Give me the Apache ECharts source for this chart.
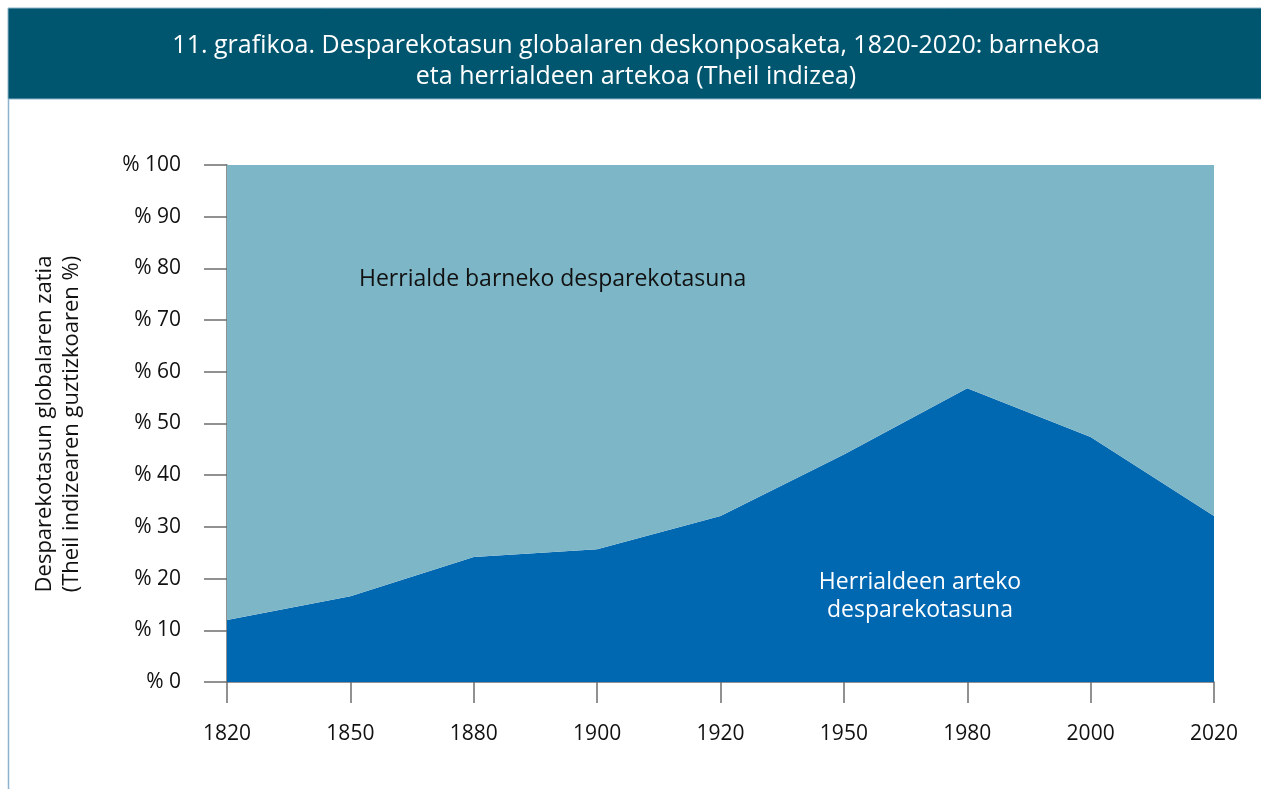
<!DOCTYPE html>
<html>
<head>
<meta charset="utf-8">
<script src="https://cdn.jsdelivr.net/npm/echarts@6/dist/echarts.min.js"></script>
<style>
  html, body { margin: 0; padding: 0; background: #fff; }
  #chart { width: 1261px; height: 789px; }
</style>
</head>
<body>
<div id="chart"></div>
<script>
const years = ['1820', '1850', '1880', '1900', '1920', '1950', '1980', '2000', '2020'];
// share of global inequality between countries (%)
const between = [12.0, 16.6, 24.2, 25.7, 32.1, 44.0, 56.8, 47.4, 32.1];
// share within countries (%) = rest of the total
const within = [88.0, 83.4, 75.8, 74.3, 67.9, 56.0, 43.2, 52.6, 67.9];
const yTicks = [0, 10, 20, 30, 40, 50, 60, 70, 80, 90, 100];

const font = '"Open Sans", "Noto Sans", sans-serif';
const axisGray = '#6e6e6e';

const chart = echarts.init(document.getElementById('chart'));
chart.setOption({
  animation: false,
  textStyle: { fontFamily: font },
  grid: { left: 227, right: 47, top: 165, bottom: 107 },
  graphic: [
    {
      type: 'rect',
      z: 100,
      shape: { x: 8, y: 8, width: 1260, height: 91 },
      style: { fill: '#00566f', stroke: '#8db4cc', lineWidth: 1 }
    },
    {
      type: 'line',
      z: 100,
      shape: { x1: 8.5, y1: 99, x2: 8.5, y2: 789 },
      style: { stroke: '#8db4cc', lineWidth: 1.5 }
    },
    {
      type: 'text',
      z: 101,
      x: 636,
      y: 61,
      style: {
        text: '11. grafikoa. Desparekotasun globalaren deskonposaketa, 1820-2020: barnekoa\neta herrialdeen artekoa (Theil indizea)',
        fill: '#fff',
        font: '25px ' + font,
        align: 'center',
        verticalAlign: 'middle',
        lineHeight: 31
      }
    },
    {
      type: 'text',
      z: 101,
      x: 359,
      y: 279,
      style: {
        text: 'Herrialde barneko desparekotasuna',
        fill: '#111',
        font: '23px ' + font,
        verticalAlign: 'middle'
      }
    },
    {
      type: 'text',
      z: 101,
      x: 920,
      y: 596,
      style: {
        text: 'Herrialdeen arteko\ndesparekotasuna',
        fill: '#fff',
        font: '23px ' + font,
        align: 'center',
        verticalAlign: 'middle',
        lineHeight: 28
      }
    },
    {
      type: 'text',
      z: 101,
      x: 58,
      y: 424,
      rotation: Math.PI / 2,
      style: {
        text: 'Desparekotasun globalaren zatia\n(Theil indizearen guztizkoaren %)',
        fill: '#111',
        font: '22px ' + font,
        align: 'center',
        verticalAlign: 'middle',
        lineHeight: 27
      }
    }
  ],
  xAxis: {
    type: 'category',
    data: years,
    boundaryGap: false,
    axisLine: { lineStyle: { color: axisGray, width: 1.5 } },
    axisTick: { show: true, length: 21, lineStyle: { color: axisGray, width: 1.5 } },
    axisLabel: { color: '#111', fontSize: 21, margin: 42, fontFamily: font },
    splitLine: { show: false }
  },
  yAxis: {
    type: 'value',
    min: 0,
    max: 100,
    interval: 10,
    axisLine: { show: true, lineStyle: { color: axisGray, width: 1.5 } },
    axisTick: { show: true, length: 23, lineStyle: { color: axisGray, width: 1.5 } },
    axisLabel: {
      color: '#111',
      fontSize: 21,
      margin: 46,
      fontFamily: font,
      formatter: v => yTicks.includes(v) ? '% ' + v : ''
    },
    splitLine: { show: false }
  },
  series: [
    {
      name: 'Herrialdeen arteko desparekotasuna',
      type: 'line',
      stack: 'total',
      data: between,
      symbol: 'none',
      lineStyle: { width: 0 },
      areaStyle: { color: '#0067b1', opacity: 1 },
      z: 1
    },
    {
      name: 'Herrialde barneko desparekotasuna',
      type: 'line',
      stack: 'total',
      data: within,
      symbol: 'none',
      lineStyle: { width: 0 },
      areaStyle: { color: '#7db6c6', opacity: 1 },
      z: 1
    }
  ]
});
</script>
</body>
</html>
